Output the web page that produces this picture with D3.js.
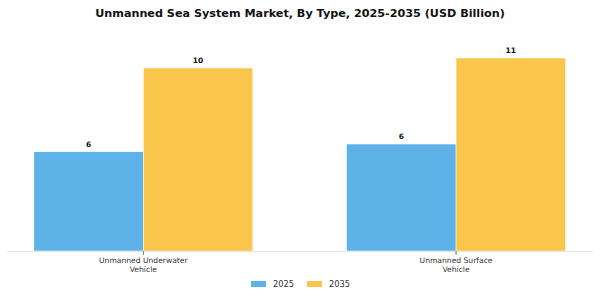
<!DOCTYPE html>
<html>
<head>
<meta charset="utf-8">
<script src="https://cdn.jsdelivr.net/npm/d3@7"></script>
<style>
  html, body { margin: 0; padding: 0; background: #fff; }
  svg { display: block; font-family: "DejaVu Sans", sans-serif; }
</style>
</head>
<body>
<svg id="chart" width="600" height="300"></svg>
<script>
const title = "Unmanned Sea System Market, By Type, 2025-2035 (USD Billion)";
const categories = [["Unmanned Underwater", "Vehicle"], ["Unmanned Surface", "Vehicle"]];
const categoryKeys = ["Unmanned Underwater Vehicle", "Unmanned Surface Vehicle"];
const seriesNames = ["2025", "2035"];
const values2025 = [5.64, 6.08];
const values2035 = [10.4, 10.97];
const labels2025 = ["6", "6"];
const labels2035 = ["10", "11"];
const colors = ["#5DB3E7", "#F9C54B"];

const series = [values2025, values2035];
const seriesLabels = [labels2025, labels2035];

const svg = d3.select("#chart");
const baseY = 251;

const x = d3.scaleBand().domain(categoryKeys).range([-13, 612.4]).paddingInner(0.3).paddingOuter(0.15);
const xs = d3.scaleBand().domain(seriesNames).range([0, x.bandwidth()]).padding(0);
const y = d3.scaleLinear().domain([0, 12.1]).range([baseY, 38.1]);

// title
svg.append("text")
  .attr("x", 300).attr("y", 16.5)
  .attr("text-anchor", "middle")
  .attr("font-size", 11.2).attr("font-weight", "bold").attr("fill", "#111")
  .text(title);

// bars
const groups = svg.append("g").selectAll("g").data(categoryKeys).join("g")
  .attr("transform", d => `translate(${x(d)},0)`);

seriesNames.forEach((s, si) => {
  groups.append("rect")
    .attr("x", xs(s))
    .attr("y", (d, i) => y(series[si][i]))
    .attr("width", xs.bandwidth())
    .attr("height", (d, i) => baseY - y(series[si][i]))
    .attr("fill", colors[si])
    .attr("stroke", "#fff").attr("stroke-width", 0.5);
  groups.append("text")
    .attr("x", xs(s) + xs.bandwidth() / 2)
    .attr("y", (d, i) => y(series[si][i]) - 5)
    .attr("text-anchor", "middle")
    .attr("font-size", 7.5).attr("font-weight", "bold").attr("fill", "#111")
    .text((d, i) => seriesLabels[si][i]);
});

// axis baseline
svg.append("line")
  .attr("x1", 7).attr("x2", 593).attr("y1", baseY + 0.5).attr("y2", baseY + 0.5)
  .attr("stroke", "#e6e6e6").attr("stroke-width", 1);

const xAxis = d3.axisBottom(x).tickSize(4).tickFormat("");
const axisG = svg.append("g").attr("transform", `translate(0,${baseY})`).call(xAxis);
axisG.select(".domain").remove();
axisG.selectAll(".tick line").attr("stroke", "#555").attr("stroke-width", 0.8);

// category labels
categoryKeys.forEach((k, i) => {
  const t = svg.append("text")
    .attr("x", x(k) + x.bandwidth() / 2)
    .attr("y", 263)
    .attr("text-anchor", "middle")
    .attr("font-size", 7.6).attr("fill", "#333");
  categories[i].forEach((line, li) => {
    t.append("tspan").attr("x", x(k) + x.bandwidth() / 2).attr("dy", li === 0 ? 0 : 8.7).text(line);
  });
});

// legend
const legendX = [251, 307];
seriesNames.forEach((s, si) => {
  svg.append("rect").attr("x", legendX[si]).attr("y", 281).attr("width", 15).attr("height", 6).attr("fill", colors[si]);
  svg.append("text").attr("x", legendX[si] + 22).attr("y", 287).attr("font-size", 8.3).attr("fill", "#333").text(s);
});
</script>
</body>
</html>
